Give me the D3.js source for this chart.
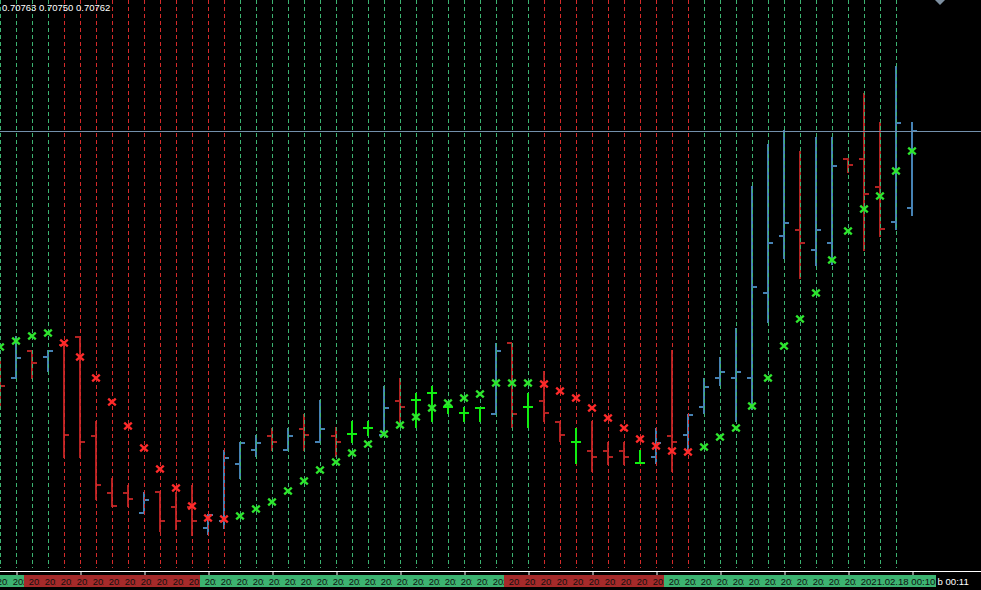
<!DOCTYPE html>
<html>
<head>
<meta charset="utf-8">
<script src="https://cdn.jsdelivr.net/npm/d3@7"></script>
<style>
  html, body { margin: 0; padding: 0; background: #000; overflow: hidden; }
  svg { display: block; }
  text { font-family: "Liberation Sans", Arial, sans-serif; }
</style>
</head>
<body>
<svg id="chart"></svg>
<script>
// OHLC bars, oldest first
var opens  = [0.707385, 0.707372, 0.707399, 0.707393, 0.707405, 0.707413, 0.707314, 0.707257, 0.707257, 0.707237,
              0.707258, 0.707243, 0.707243, 0.707222, 0.707229, 0.707286, 0.707300, 0.707314, 0.707300, 0.707321,
              0.707308, 0.707314, 0.707316, 0.707322, 0.707315, 0.707349, 0.707350, 0.707357, 0.707343, 0.707337,
              0.707342, 0.707336, 0.707407, 0.707343, 0.707349, 0.707328, 0.707308, 0.707299, 0.707299, 0.707299,
              0.707287, 0.707293, 0.707314, 0.707315, 0.707343, 0.707372, 0.707372, 0.707372, 0.707457, 0.707514,
              0.707520, 0.707500, 0.707507, 0.707591, 0.707591, 0.707563, 0.707528, 0.707542];
var highs  = [0.707393, 0.707414, 0.707400, 0.707400, 0.707409, 0.707414, 0.707329, 0.707272, 0.707265, 0.707258,
              0.707258, 0.707258, 0.707265, 0.707236, 0.707300, 0.707308, 0.707315, 0.707322, 0.707322, 0.707336,
              0.707350, 0.707323, 0.707329, 0.707329, 0.707364, 0.707372, 0.707357, 0.707364, 0.707346, 0.707343,
              0.707342, 0.707407, 0.707407, 0.707357, 0.707379, 0.707329, 0.707322, 0.707329, 0.707308, 0.707308,
              0.707300, 0.707322, 0.707400, 0.707336, 0.707372, 0.707393, 0.707422, 0.707564, 0.707606, 0.707620,
              0.707599, 0.707613, 0.707613, 0.707592, 0.707657, 0.707628, 0.707684, 0.707628];
var lows   = [0.707343, 0.707371, 0.707371, 0.707378, 0.707292, 0.707292, 0.707250, 0.707243, 0.707243, 0.707236,
              0.707218, 0.707220, 0.707214, 0.707215, 0.707221, 0.707271, 0.707293, 0.707299, 0.707299, 0.707299,
              0.707308, 0.707293, 0.707307, 0.707314, 0.707314, 0.707325, 0.707322, 0.707328, 0.707336, 0.707328,
              0.707328, 0.707336, 0.707322, 0.707322, 0.707328, 0.707308, 0.707286, 0.707278, 0.707285, 0.707285,
              0.707286, 0.707286, 0.707278, 0.707299, 0.707336, 0.707364, 0.707328, 0.707340, 0.707427, 0.707491,
              0.707471, 0.707484, 0.707485, 0.707577, 0.707499, 0.707513, 0.707520, 0.707534];
var closes = [0.707364, 0.707392, 0.707387, 0.707399, 0.707315, 0.707308, 0.707265, 0.707244, 0.707251, 0.707250,
              0.707229, 0.707229, 0.707229, 0.707235, 0.707292, 0.707307, 0.707307, 0.707308, 0.707314, 0.707315,
              0.707321, 0.707308, 0.707316, 0.707322, 0.707342, 0.707343, 0.707350, 0.707357, 0.707343, 0.707337,
              0.707342, 0.707399, 0.707336, 0.707343, 0.707337, 0.707315, 0.707308, 0.707293, 0.707293, 0.707293,
              0.707287, 0.707307, 0.707308, 0.707335, 0.707363, 0.707378, 0.707378, 0.707463, 0.707507, 0.707527,
              0.707507, 0.707520, 0.707584, 0.707585, 0.707556, 0.707521, 0.707627, 0.707619];

// parabolic SAR values and trend (u = up / green, d = down / red)
var sar = [0.707403, 0.707409, 0.707414, 0.707417, 0.707407, 0.707393, 0.707372, 0.707348, 0.707324, 0.707302,
           0.707281, 0.707262, 0.707244, 0.707232, 0.707231, 0.707234, 0.707241, 0.707248, 0.707259, 0.707269,
           0.707280, 0.707288, 0.707297, 0.707306, 0.707316, 0.707325, 0.707333, 0.707342, 0.707347, 0.707352,
           0.707356, 0.707367, 0.707367, 0.707367, 0.707366, 0.707359, 0.707352, 0.707342, 0.707332, 0.707322,
           0.707311, 0.707304, 0.707299, 0.707298, 0.707303, 0.707313, 0.707322, 0.707344, 0.707372, 0.707404,
           0.707431, 0.707457, 0.707490, 0.707519, 0.707541, 0.707554, 0.707579, 0.707599];
var trend = ["u","u","u","u","d","d","d","d","d","d",
             "d","d","d","d","d","u","u","u","u","u",
             "u","u","u","u","u","u","u","u","u","u",
             "u","u","u","u","d","d","d","d","d","d",
             "d","d","d","d","u","u","u","u","u","u",
             "u","u","u","u","u","u","u","u"];

// header / time strip texts
var headerText = "0.70763 0.70750 0.70762";
var shortTimeLabel = "202";
var lastTimeLabel = "2021.02.18 00:10";
var lastTimeIndex = 54;
var timerText = "b 00:11";

var W = 981, H = 590;
var plotBottom = 570;
var barStep = 16;

var svg = d3.select("#chart").attr("width", W).attr("height", H);
svg.append("rect").attr("width", W).attr("height", H).attr("fill", "#000");

var n = closes.length;
var idx = d3.range(n);

var x = d3.scaleLinear().domain([0, n - 1]).range([0, (n - 1) * barStep]);
var y = d3.scaleLinear().domain([0.70718, 0.70775]).range([plotBottom, 0]);

var colUp = "#4682b4", colDown = "#b22222", colDoji = "#11ee11";
var gridUp = "#3cb371", gridDown = "#d42a2a";

function barColor(i) {
  if (closes[i] > opens[i]) return colUp;
  if (closes[i] < opens[i]) return colDown;
  return colDoji;
}

function drawBars(sel) {
  sel.append("line")
    .attr("x1", function(i) { return x(i); }).attr("x2", function(i) { return x(i); })
    .attr("y1", function(i) { return Math.round(y(highs[i])); })
    .attr("y2", function(i) { return Math.round(y(lows[i])); });
  sel.append("line")
    .attr("x1", function(i) { return x(i) - 5; }).attr("x2", function(i) { return x(i); })
    .attr("y1", function(i) { return Math.round(y(opens[i])); })
    .attr("y2", function(i) { return Math.round(y(opens[i])); });
  sel.append("line")
    .attr("x1", function(i) { return x(i); }).attr("x2", function(i) { return x(i) + 5; })
    .attr("y1", function(i) { return Math.round(y(closes[i])); })
    .attr("y2", function(i) { return Math.round(y(closes[i])); });
}

// normal bars (under the dashed separators)
var normal = idx.filter(function(i) { return closes[i] !== opens[i]; });
svg.append("g").selectAll("g")
  .data(normal)
  .enter().append("g")
  .attr("stroke", barColor)
  .attr("stroke-width", 2)
  .call(drawBars);

// dashed vertical separators, colored by SAR trend
svg.append("g").selectAll("line")
  .data(idx.slice(0, n - 1))
  .enter().append("line")
  .attr("x1", function(i) { return x(i) + 0.5; })
  .attr("x2", function(i) { return x(i) + 0.5; })
  .attr("y1", 0).attr("y2", 568)
  .attr("stroke", function(i) { return trend[i] === "u" ? gridUp : gridDown; })
  .attr("stroke-dasharray", "4,3");

// doji bars
var doji = idx.filter(function(i) { return closes[i] === opens[i]; });
svg.append("g").selectAll("g")
  .data(doji)
  .enter().append("g")
  .attr("stroke", barColor)
  .attr("stroke-width", 2)
  .call(drawBars);

// bid line
var bidY = Math.round(y(closes[n - 1])) + 0.5;
svg.append("line")
  .attr("x1", 0).attr("x2", W)
  .attr("y1", bidY).attr("y2", bidY)
  .attr("stroke", "#7390ab").attr("stroke-width", 1);

// SAR marks
svg.append("g").selectAll("path")
  .data(idx)
  .enter().append("path")
  .attr("transform", function(i) { return "translate(" + x(i) + "," + Math.round(y(sar[i])) + ")"; })
  .attr("d", "M-3.8,-3.3L3.8,3.3M-3.8,3.3L3.8,-3.3")
  .attr("stroke", function(i) { return trend[i] === "u" ? "#2ee62e" : "#ff2a2a"; })
  .attr("stroke-width", 2.4)
  .attr("fill", "none");

// header text
svg.append("text")
  .attr("x", 2).attr("y", 11)
  .attr("fill", "#fff")
  .style("font-size", "9.5px")
  .text(headerText);

// top-right scroll marker
svg.append("path")
  .attr("d", "M935,0L945,0L940,5Z")
  .attr("fill", "#7d8fa0");

// time strip
svg.append("line")
  .attr("x1", 0).attr("x2", W)
  .attr("y1", 571.5).attr("y2", 571.5)
  .attr("stroke", "#fff");

var xAxis = d3.axisBottom(x)
  .tickValues(idx.filter(function(i) { return i % 4 === 1; }))
  .tickSize(4)
  .tickSizeOuter(0)
  .tickFormat("");
var axisG = svg.append("g")
  .attr("transform", "translate(0.5,571)")
  .call(xAxis);
axisG.select(".domain").remove();
axisG.selectAll(".tick line").attr("stroke", "#fff");

var labelIdx = idx.slice(0, lastTimeIndex);
var defs = svg.append("defs");
defs.selectAll("clipPath")
  .data(labelIdx)
  .enter().append("clipPath")
  .attr("id", function(i) { return "tl" + i; })
  .append("rect")
  .attr("x", function(i) { return x(i) - 8; })
  .attr("y", 575).attr("width", 16).attr("height", 12);

var labels = svg.append("g").selectAll("g")
  .data(labelIdx)
  .enter().append("g");
labels.append("rect")
  .attr("x", function(i) { return x(i) - 8; })
  .attr("y", 575).attr("width", 16).attr("height", 12)
  .attr("fill", function(i) {
    var t = trend[Math.min(i + 2, n - 1)];
    return t === "u" ? "#3cb371" : "#a52a2a";
  });
labels.append("text")
  .attr("clip-path", function(i) { return "url(#tl" + i + ")"; })
  .attr("x", function(i) { return x(i) - 3.3; })
  .attr("y", 584.5)
  .attr("fill", "#101010")
  .style("font-size", "9.4px")
  .text(shortTimeLabel);

svg.append("rect")
  .attr("x", x(lastTimeIndex) - 8).attr("y", 575)
  .attr("width", 80).attr("height", 12)
  .attr("fill", "#3cb371");
svg.append("text")
  .attr("x", x(lastTimeIndex) - 3.3).attr("y", 584.5)
  .attr("fill", "#101010")
  .style("font-size", "9.6px")
  .text(lastTimeLabel);

svg.append("text")
  .attr("x", 937.5).attr("y", 584.5)
  .attr("fill", "#fff")
  .style("font-size", "9.6px")
  .text(timerText);
</script>
</body>
</html>
